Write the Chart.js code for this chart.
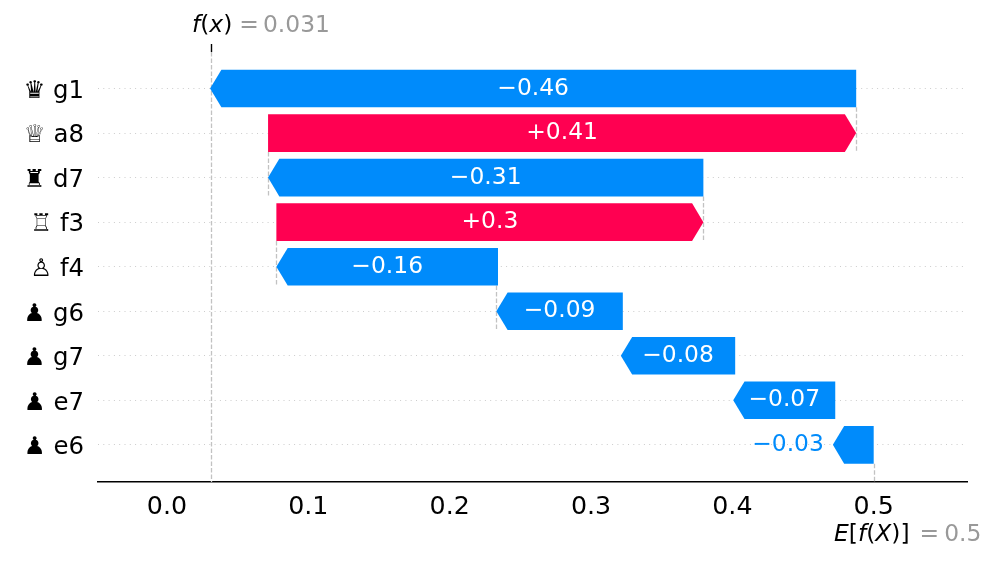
<!DOCTYPE html>
<html>
<head>
<meta charset="utf-8">
<style>html,body{margin:0;padding:0;background:#fff}canvas{display:block}</style>
<script src="https://cdn.jsdelivr.net/npm/chart.js@4/dist/chart.umd.min.js"></script>
</head>
<body>
<canvas id="c" width="996" height="561"></canvas>
<script>
const rowLabels = ["♛ g1","♕ a8","♜ d7","♖ f3","♙ f4","♟ g6","♟ g7","♟ e7","♟ e6"];
const barStarts = [0.4876,0.0715,0.3795,0.0774,0.2342,0.3225,0.4020,0.4728,0.5000];
const barEnds   = [0.0305,0.4876,0.0715,0.3795,0.0774,0.2330,0.3211,0.4006,0.4711];
const valueLabels = ["−0.46","+0.41","−0.31","+0.3","−0.16","−0.09","−0.08","−0.07","−0.03"];
const xTicks = [0,0.1,0.2,0.3,0.4,0.5];
const fx = 0.031, baseValue = 0.5;
const connectorRows = [1,2,3,4,5];
const outsideLabelRows = [8];

const BLUE="#008bfb", RED="#ff0051", GUIDE="#c2c2c2", GRAY="#999999";
const FONT='"DejaVu Sans"';
const SIZE=23.4, TICK_SIZE=25.3, ROW_SIZE=24.4;

function runs(ctx, x, y, parts){
  ctx.textBaseline='alphabetic'; ctx.textAlign='left';
  for(const p of parts){
    ctx.font=(p.i?'italic ':'')+SIZE+'px '+FONT;
    ctx.fillStyle=p.c;
    ctx.fillText(p.t,x,y);
    x+=ctx.measureText(p.t).width+(p.gap||0);
  }
}

const waterfall={
  id:'waterfall',
  beforeDatasetsDraw(chart){
    const {ctx,scales:{x,y},chartArea:a}=chart;
    const half=chart.getDatasetMeta(0).data[0].height/2;
    ctx.save();
    ctx.strokeStyle=GUIDE; ctx.lineWidth=1.3; ctx.setLineDash([4.5,2]);
    const seg=(px,y0,y1)=>{ctx.beginPath();ctx.moveTo(Math.round(px)+.5,y0);ctx.lineTo(Math.round(px)+.5,y1);ctx.stroke();};
    seg(x.getPixelForValue(fx),a.top+8,a.bottom);
    seg(x.getPixelForValue(baseValue),y.getPixelForValue(8)+half,a.bottom);
    for(const r of connectorRows){
      seg(x.getPixelForValue(barEnds[r]),y.getPixelForValue(r-1)+half,y.getPixelForValue(r)+half);
    }
    ctx.setLineDash([]);
    ctx.strokeStyle='#000'; ctx.lineWidth=1.4;
    const fp=Math.round(x.getPixelForValue(fx))+.5;
    ctx.beginPath();ctx.moveTo(fp,a.top);ctx.lineTo(fp,a.top+8);ctx.stroke();
    ctx.restore();
  },
  afterDatasetsDraw(chart){
    const {ctx,scales:{x}}=chart;
    const head=11.3;
    ctx.save();
    chart.getDatasetMeta(0).data.forEach((el,i)=>{
      const pos=barEnds[i]>barStarts[i], h=el.height/2, yc=el.y;
      const tip=x.getPixelForValue(barEnds[i]), tail=x.getPixelForValue(barStarts[i]);
      const neck=pos?tip-head:tip+head;
      ctx.fillStyle=pos?RED:BLUE;
      ctx.beginPath();
      ctx.moveTo(tail,yc-h);ctx.lineTo(neck,yc-h);ctx.lineTo(tip,yc);ctx.lineTo(neck,yc+h);ctx.lineTo(tail,yc+h);
      ctx.closePath();ctx.fill();
      ctx.font=SIZE+'px '+FONT;ctx.textBaseline='middle';
      if(outsideLabelRows.includes(i)){
        ctx.textAlign='right';ctx.fillStyle=BLUE;ctx.fillText(valueLabels[i],tip-9,yc);
      }else{
        ctx.textAlign='center';ctx.fillStyle='#fff';ctx.fillText(valueLabels[i],(tip+tail)/2,yc);
      }
    });
    runs(ctx,192,32,[{t:'f',i:1,c:'#000'},{t:'(',c:'#000'},{t:'x',i:1,c:'#000'},{t:')',c:'#000',gap:7},{t:'=',c:GRAY,gap:4},{t:'0.031',c:GRAY}]);
    runs(ctx,834,541,[{t:'E',i:1,c:'#000'},{t:'[',c:'#000'},{t:'f',i:1,c:'#000'},{t:'(',c:'#000'},{t:'X',i:1,c:'#000'},{t:')]',c:'#000',gap:10},{t:'=',c:GRAY,gap:5},{t:'0.5',c:GRAY}]);
    ctx.restore();
  }
};

new Chart(document.getElementById('c'),{
  type:'bar',
  plugins:[waterfall],
  data:{datasets:[{
    data:rowLabels.map((_,i)=>({x:[barStarts[i],barEnds[i]],y:i})),
    backgroundColor:'transparent',borderWidth:0,barThickness:37.6
  }]},
  options:{
    indexAxis:'y',responsive:false,animation:false,
    layout:{padding:{top:44,right:29,left:0,bottom:0}},
    plugins:{legend:{display:false},tooltip:{enabled:false}},
    scales:{
      x:{
        type:'linear',min:-0.0488,max:0.566,offset:false,
        afterBuildTicks(s){s.ticks=xTicks.map(v=>({value:v}));},
        afterFit(s){s.height=79;},
        grid:{display:false,drawTicks:true,tickLength:6,tickColor:'#000',tickWidth:1.4},
        border:{display:true,color:'#000',width:1.6},
        ticks:{color:'#000',font:{family:FONT,size:TICK_SIZE},padding:4,maxRotation:0,autoSkip:false,callback:v=>v.toFixed(1)}
      },
      y:{
        type:'linear',reverse:true,min:-1,max:8.834,offset:false,
        afterBuildTicks(s){s.ticks=rowLabels.map((_,i)=>({value:i}));},
        afterFit(s){s.width=98;},
        afterUpdate(s){
          const orig=s._computeLabelItems.bind(s);
          s._computeLabelItems=(area)=>orig(area).map(it=>({...it,textOffset:it.textOffset+1.5}));
        },
        grid:{offset:false,drawTicks:false,color:'#cccccc',lineWidth:1},
        border:{display:false,dash:[1,4.3]},
        ticks:{color:'#000',font:{family:FONT,size:ROW_SIZE},padding:14,autoSkip:false,callback:v=>rowLabels[v]}
      }
    }
  }
});
</script>
</body>
</html>
